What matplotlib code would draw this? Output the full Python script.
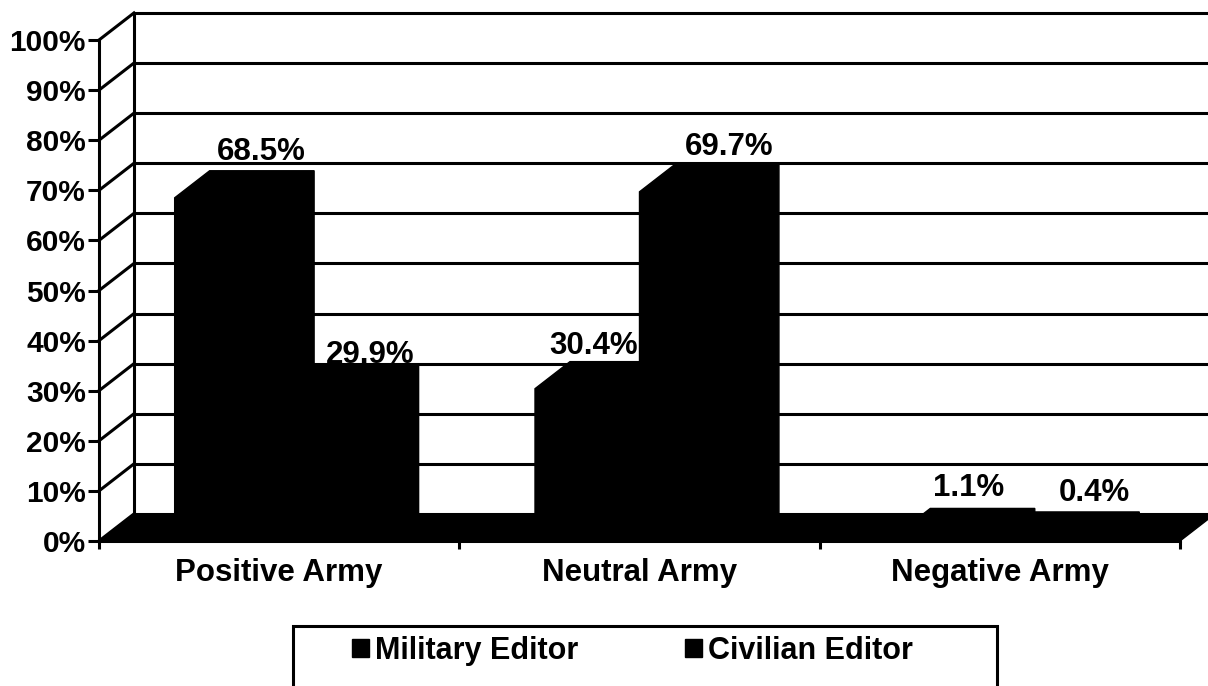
import matplotlib
matplotlib.use('Agg')
import matplotlib.pyplot as plt
from matplotlib.patches import Polygon, Patch, Rectangle

categories = ["Positive Army", "Neutral Army", "Negative Army"]
series_names = ["Military Editor", "Civilian Editor"]
military = [68.5, 30.4, 1.1]
civilian = [29.9, 69.7, 0.4]
y_ticks = list(range(0, 101, 10))

# value label nudges in pixels, relative to back-centre of each bar top
nudge_military = [(-1, 11), (-29, 8), (-14, 12)]
nudge_civilian = [(4, 1), (2, 10), (7, 11)]

plt.rcParams['font.family'] = ['Liberation Sans', 'DejaVu Sans']
plt.rcParams['font.weight'] = 'bold'

fig = plt.figure(figsize=(12.08, 6.86), dpi=100)
ax = fig.add_axes([99 / 1208, 145 / 686, 1081 / 1208, 501 / 686])
n = len(categories)
ax.set_xlim(0, n)
ax.set_ylim(0, 100)

# fake 3d depth (data units)
DX = 0.097
DY = 5.4
GAP = 0.21
W = 0.29
LW = 2.2

# back wall + side wall lines
for t in y_ticks:
    ax.plot([DX, n + DX + 0.2], [t + DY, t + DY], color='black', lw=LW,
            clip_on=False, zorder=1, solid_capstyle='butt')
    ax.plot([0, DX], [t, t + DY], color='black', lw=LW, clip_on=False, zorder=1)
ax.plot([DX, DX], [DY, 100 + DY], color='black', lw=LW, clip_on=False, zorder=1)

# floor
floor = Polygon([(0, 0), (n, 0), (n + DX, DY), (DX, DY)], closed=True,
                facecolor='black', edgecolor='black', lw=1, zorder=2, clip_on=False)
ax.add_patch(floor)

# bars
for j, (vals, nudges) in enumerate([(military, nudge_military), (civilian, nudge_civilian)]):
    for i, v in enumerate(vals):
        xl = i + GAP + j * W
        xr = xl + W
        pts = [(xl, 0), (xl, v), (xl + DX, v + DY), (xr + DX, v + DY), (xr + DX, DY), (xr, 0)]
        ax.add_patch(Polygon(pts, closed=True, facecolor='black', edgecolor='black',
                             lw=1, zorder=3, clip_on=False))
        ax.annotate(f"{v}%", xy=(xl + W / 2 + DX, v + DY), xytext=nudges[i],
                    textcoords='offset pixels', ha='center', va='baseline',
                    fontsize=22.5, fontweight='bold', zorder=5, annotation_clip=False)

# axes
for s in ['top', 'right']:
    ax.spines[s].set_visible(False)
ax.spines['left'].set_linewidth(LW)
ax.spines['bottom'].set_linewidth(LW)
ax.spines['left'].set_zorder(4)
ax.set_yticks(y_ticks)
ax.set_yticklabels([f"{t}%" for t in y_ticks])
ax.tick_params(axis='y', direction='out', length=8, width=LW, labelsize=21.5, pad=1.5)
ax.set_xticks(range(n + 1))
ax.set_xticklabels([])
ax.set_xticks([i + 0.5 for i in range(n)], minor=True)
ax.set_xticklabels(categories, minor=True)
ax.tick_params(axis='x', which='major', direction='out', length=6, width=LW)
ax.tick_params(axis='x', which='minor', length=0, labelsize=22.5, pad=12.5)
for lab in ax.get_xticklabels(minor=True) + ax.get_yticklabels():
    lab.set_fontweight('bold')

# legend
handles = [Patch(facecolor='black', edgecolor='black') for _ in series_names]
fig.legend(handles, series_names, loc='center left', bbox_to_anchor=(352 / 1208, 35 / 686),
           ncol=2, frameon=False, prop={'weight': 'bold', 'size': 22},
           handlelength=0.55, handleheight=0.55, handletextpad=0.2,
           columnspacing=3.5, borderpad=0, borderaxespad=0)
fig.patches.append(Rectangle((293 / 1208, -0.05), (997 - 293) / 1208, 60 / 686 + 0.05,
                             transform=fig.transFigure, fill=False, lw=LW, ec='black'))

fig.savefig('out.png', dpi=100)
